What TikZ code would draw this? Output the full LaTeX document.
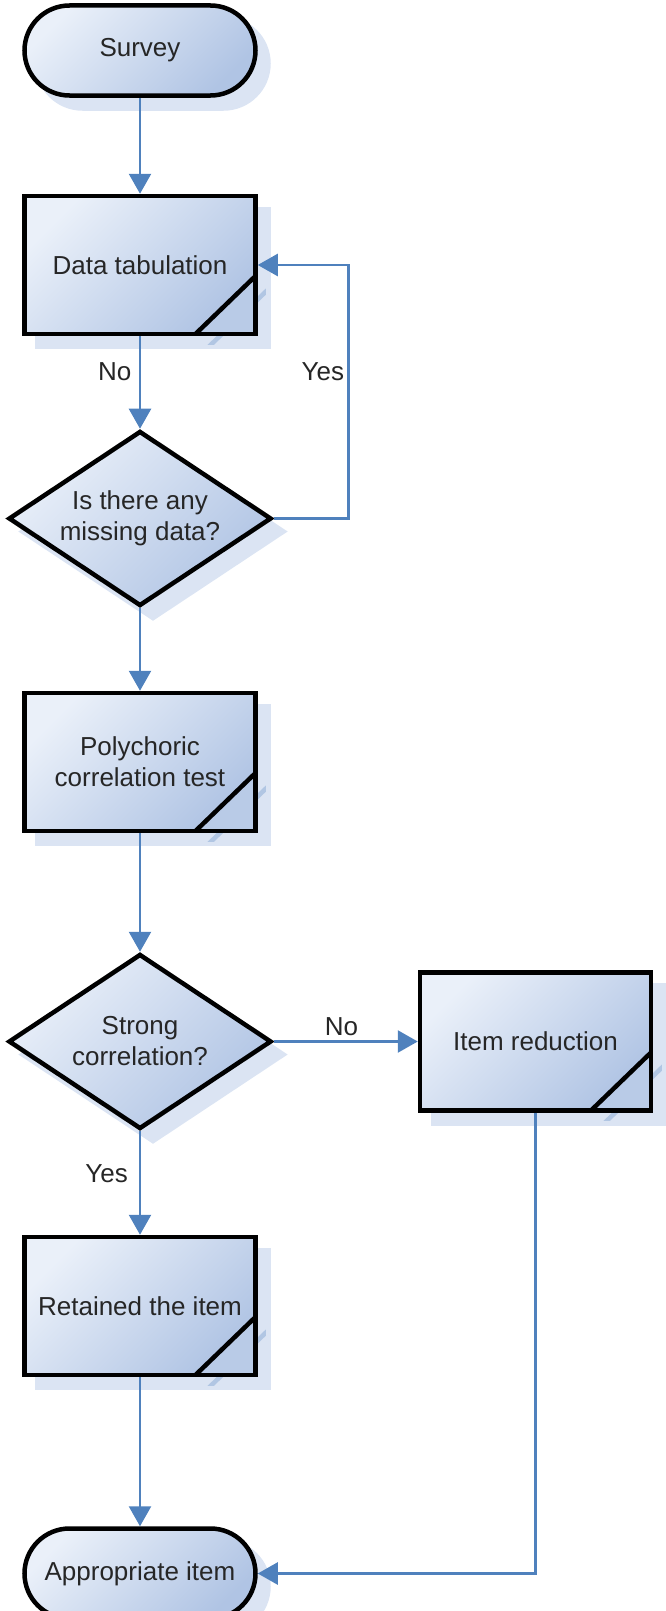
\documentclass[tikz,border=0pt]{standalone}
\usepackage{fontspec}
\setmainfont{Liberation Sans}
\usetikzlibrary{positioning,arrows.meta,shapes.geometric,shadows,calc}
\definecolor{boxlight}{RGB}{234,240,249}
\definecolor{boxdark}{RGB}{176,196,228}
\definecolor{shadowblue}{RGB}{219,228,243}
\definecolor{lineblue}{RGB}{79,129,189}
\definecolor{txtgray}{RGB}{38,38,38}
\newcommand{\flowfont}{\fontsize{26pt}{31pt}\selectfont}

\begin{document}
\begin{tikzpicture}[
  node distance=90pt and 140pt,
  flow/.style={draw=black, line width=4.5pt, top color=boxlight, bottom color=boxdark,
               shading angle=45, text=txtgray, font=\flowfont, align=center, inner sep=0pt,
               drop shadow={shadow xshift=13pt, shadow yshift=-13pt, fill=shadowblue,
                            draw=shadowblue, opacity=1}},
  term/.style={flow, rectangle, rounded corners=45pt, minimum width=231pt, minimum height=90pt},
  proc/.style={flow, rectangle, minimum width=231pt, minimum height=138pt,
               drop shadow={shadow xshift=13pt, shadow yshift=-13pt, fill=shadowblue,
                            draw=shadowblue, opacity=1,
                 path picture={
                   \draw[draw=lineblue!30!shadowblue, line width=4.5pt]
                     ([yshift=58pt]path picture bounding box.south east)
                     -- ([xshift=-60pt]path picture bounding box.south east);}},
               path picture={
                 \shade[top color=lineblue!55!boxdark, bottom color=boxdark!85!boxlight, shading angle=45]
                   ([yshift=58pt]path picture bounding box.south east)
                   -- (path picture bounding box.south east)
                   -- ([xshift=-60pt]path picture bounding box.south east) -- cycle;
                 \draw[draw=black, line width=4.5pt]
                   ([yshift=58pt]path picture bounding box.south east)
                   -- ([xshift=-60pt]path picture bounding box.south east);}},
  dec/.style={flow, diamond, aspect=1.5, minimum width=263pt, minimum height=175pt},
  lbl/.style={font=\flowfont, text=txtgray, inner sep=0pt},
  arr/.style={-{Triangle[width=22pt,length=20pt]}, line width=2.5pt, draw=lineblue},
]
\useasboundingbox (0pt,0pt) rectangle (666pt,-1611pt);

\node[term] (survey) at (140pt,-50.5pt) {Survey};
\node[proc, below=96pt of survey] (tab) {Data tabulation};
\node[dec, below=92.5pt of tab] (miss) {Is there any\\missing data?};
\node[proc, below=82.5pt of miss] (poly) {Polychoric\\correlation test};
\node[dec, below=118.5pt of poly] (strong) {Strong\\correlation?};
\node[proc, right=144pt of strong] (reduce) {Item reduction};
\node[proc, below=103.5pt of strong] (retain) {Retained the item};
\node[term, below=149pt of retain] (approp) {Appropriate item};

\coordinate[right=74.5pt of miss.east] (yesturn);

% Connectors
\draw[arr] (survey) -- (tab);
\draw[arr] (tab) -- node[lbl, pos=0.38, anchor=east, xshift=-7.5pt] {No} (miss);
\draw[arr] (miss.east) -- (yesturn) |- node[lbl, pos=0.29, anchor=east, xshift=-3pt] {Yes} (tab.east);
\draw[arr] (miss) -- (poly);
\draw[arr] (poly) -- (strong);
\draw[arr] (strong) -- node[lbl, pos=0.47, above=5pt] {No} (reduce);
\draw[arr] (strong) -- node[lbl, pos=0.41, anchor=east, xshift=-11pt] {Yes} (retain);
\draw[arr] (retain) -- (approp);
\draw[arr] (reduce) |- (approp);

\end{tikzpicture}
\end{document}
